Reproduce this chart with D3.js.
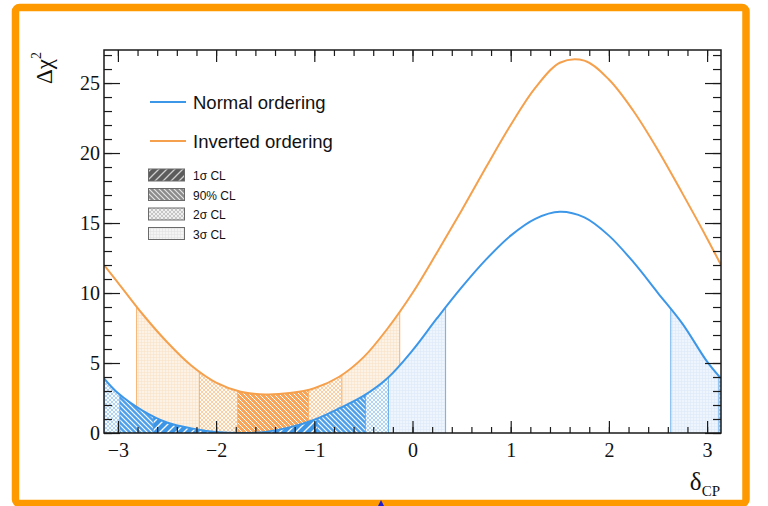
<!DOCTYPE html>
<html><head><meta charset="utf-8">
<script src="https://cdn.jsdelivr.net/npm/d3@7"></script>
<style>body{margin:0;background:#fff}svg{display:block}</style>
</head><body>
<svg id="c" width="768" height="506"></svg>
<script>
// ---- data ----
const deltaNO = [-3.1416,-3.0,-2.75,-2.5,-2.25,-2.0,-1.75,-1.5,-1.25,-1.0,-0.75,-0.5,-0.25,0,0.25,0.5,0.75,1.0,1.25,1.5,1.75,2.0,2.25,2.5,2.75,3.0,3.1416];
const chi2NO  = [3.9,2.85,1.6,0.75,0.33,0.08,0.0,0.08,0.4,0.95,1.75,2.65,3.95,5.9,8.2,10.4,12.4,14.1,15.3,15.8,15.4,14.1,12.2,10.0,7.8,5.1,3.9];
const deltaIO = [-3.1416,-3.0,-2.75,-2.5,-2.25,-2.0,-1.75,-1.5,-1.25,-1.0,-0.75,-0.5,-0.25,0,0.25,0.5,0.75,1.0,1.25,1.5,1.75,2.0,2.25,2.5,2.75,3.0,3.1416];
const chi2IO  = [12.0,10.75,8.5,6.5,4.8,3.6,2.95,2.75,2.85,3.2,4.0,5.4,7.5,10.0,12.9,15.9,19.0,22.0,24.65,26.45,26.6,25.25,23.0,20.2,17.1,13.9,12.0];

// CL bands: start, end, level
const bandStartNO = [-3.1416,-2.98,-2.64,-0.97,-0.48,-0.245,2.63,3.12];
const bandEndNO   = [-2.98,-2.64,-0.97,-0.48,-0.245,0.337,3.12,3.1416];
const bandLevelNO = ["2s","90","1s","90","2s","3s","3s","2s"];
const bandStartIO = [-2.81,-2.17,-1.78,-1.06,-0.72];
const bandEndIO   = [-2.17,-1.78,-1.06,-0.72,-0.13];
const bandLevelIO = ["3s","2s","90","2s","3s"];

const xTicks = [-3,-2,-1,0,1,2,3];
const yTicks = [0,5,10,15,20,25];
const seriesNames = ["Normal ordering","Inverted ordering"];
const clLabels = ["1σ CL","90% CL","2σ CL","3σ CL"];
const clKeys = ["1s","90","2s","3s"];

// ---- drawing ----
const svg = d3.select("#c");
const defs = svg.append("defs");
const blue = "#3d97e8", orange = "#f5a04c";

function addPattern(id, kind, base, line, lw) {
  const p = defs.append("pattern").attr("id", id).attr("patternUnits","userSpaceOnUse");
  let s, d;
  if (kind === "1s") { s = 8; d = "M-1,9 L9,-1 M-1,1 L1,-1 M7,9 L9,7"; }
  else if (kind === "90") { s = 5; d = "M-1,-1 L6,6 M4,-1 L6,1 M-1,4 L1,6"; }
  else if (kind === "2s") { s = 4; d = "M0,0 L4,4 M4,0 L0,4"; }
  else { s = 3; d = "M0,0.5 H3 M0.5,0 V3"; }
  p.attr("width", s).attr("height", s);
  p.append("rect").attr("width", s).attr("height", s).attr("fill", base);
  p.append("path").attr("d", d).attr("stroke", line).attr("stroke-width", lw).attr("fill","none");
}
addPattern("NO-1s","1s","#3d95e6","#ffffff",1.3);
addPattern("NO-90","90","#4d9fe9","#ffffff",1.1);
addPattern("NO-2s","2s","#b2d3f3","#ffffff",0.9);
addPattern("NO-3s","3s","#eef5fc","#dbe9f8",0.6);
addPattern("IO-1s","1s","#f39a45","#ffffff",1.3);
addPattern("IO-90","90","#f6a55a","#ffffff",1.0);
addPattern("IO-2s","2s","#f9cfa6","#ffffff",0.9);
addPattern("IO-3s","3s","#fdf2e6","#f9e2c9",0.6);
addPattern("L-1s","1s","#5c5c5c","#cfcfcf",1.3);
addPattern("L-90","90","#8c8c8c","#e6e6e6",1.1);
addPattern("L-2s","2s","#c6c6c6","#f4f4f4",0.9);
addPattern("L-3s","3s","#f4f4f4","#e0e0e0",0.6);

const x = d3.scaleLinear().domain([-Math.PI, Math.PI]).range([104, 721]);
const y = d3.scaleLinear().domain([0, 27.36]).range([433, 50]);

defs.append("clipPath").attr("id","plotclip").append("rect")
  .attr("x",104).attr("y",50).attr("width",617).attr("height",383);

const curve = d3.curveCatmullRom.alpha(0.5);
const line = d3.line().x(d=>x(d[0])).y(d=>y(d[1])).curve(curve);
const area = d3.area().x(d=>x(d[0])).y0(y(0)).y1(d=>y(d[1])).curve(curve);

const ptsNO = deltaNO.map((d,i)=>[d, chi2NO[i]]);
const ptsIO = deltaIO.map((d,i)=>[d, chi2IO[i]]);

const plot = svg.append("g").attr("clip-path","url(#plotclip)");

function drawBands(tag, pts, starts, ends, levels, col) {
  defs.append("clipPath").attr("id","under-"+tag).append("path").attr("d", area(pts));
  const g = plot.append("g").attr("clip-path","url(#under-"+tag+")");
  starts.forEach((s,i)=>{
    g.append("rect").attr("x", x(s)).attr("y", 50)
      .attr("width", x(ends[i]) - x(s)).attr("height", 383)
      .attr("fill", "url(#"+tag+"-"+levels[i]+")");
  });
  const edges = Array.from(new Set(starts.concat(ends)));
  edges.forEach(e=>{
    g.append("line").attr("x1", x(e)).attr("x2", x(e)).attr("y1", 50).attr("y2", 433)
      .attr("stroke", col).attr("stroke-width", 1).attr("opacity", 0.75);
  });
}
drawBands("IO", ptsIO, bandStartIO, bandEndIO, bandLevelIO, orange);
drawBands("NO", ptsNO, bandStartNO, bandEndNO, bandLevelNO, blue);

plot.append("path").attr("d", line(ptsIO)).attr("fill","none").attr("stroke",orange).attr("stroke-width",2);
plot.append("path").attr("d", line(ptsNO)).attr("fill","none").attr("stroke",blue).attr("stroke-width",2);

// axes
const serif = "'Liberation Serif','Times New Roman',serif";
const fmt = d3.format("d");
const xMinor = d3.range(-3, 3.05, 0.2);
const yMinor = d3.range(0, 28, 1);
function styleAxis(g){
  g.select(".domain").remove();
  g.attr("font-family", serif).attr("font-size", 20);
  g.selectAll("line").attr("stroke","#1a1a1a").attr("stroke-width",1.2);
  g.selectAll("text").attr("fill","#111");
}

svg.append("g").attr("transform","translate(0,433)")
  .call(d3.axisBottom(x).tickValues(xMinor).tickSize(-6).tickSizeOuter(0).tickFormat("")).call(styleAxis);
svg.append("g").attr("transform","translate(0,433)")
  .call(d3.axisBottom(x).tickValues(xTicks).tickSize(-12).tickSizeOuter(0).tickPadding(10).tickFormat(fmt)).call(styleAxis);
svg.append("g").attr("transform","translate(0,50)")
  .call(d3.axisTop(x).tickValues(xMinor).tickSize(-6).tickSizeOuter(0).tickFormat("")).call(styleAxis);
svg.append("g").attr("transform","translate(0,50)")
  .call(d3.axisTop(x).tickValues(xTicks).tickSize(-12).tickSizeOuter(0).tickFormat("")).call(styleAxis);

svg.append("g").attr("transform","translate(104,0)")
  .call(d3.axisLeft(y).tickValues(yMinor).tickSize(-8).tickSizeOuter(0).tickFormat("")).call(styleAxis);
svg.append("g").attr("transform","translate(104,0)")
  .call(d3.axisLeft(y).tickValues(yTicks).tickSize(-16).tickSizeOuter(0).tickPadding(4).tickFormat(fmt)).call(styleAxis);
svg.append("g").attr("transform","translate(721,0)")
  .call(d3.axisRight(y).tickValues(yMinor).tickSize(-8).tickSizeOuter(0).tickFormat("")).call(styleAxis);
svg.append("g").attr("transform","translate(721,0)")
  .call(d3.axisRight(y).tickValues(yTicks).tickSize(-16).tickSizeOuter(0).tickFormat("")).call(styleAxis);

svg.append("rect").attr("x",104).attr("y",50).attr("width",617).attr("height",383)
  .attr("fill","none").attr("stroke","#1a1a1a").attr("stroke-width",1.5);

// axis titles
const yt = svg.append("text").attr("transform","translate(52,84) rotate(-90)")
  .attr("font-family",serif).attr("font-size",23).attr("fill","#111");
yt.append("tspan").text("Δχ");
yt.append("tspan").attr("font-size",14).attr("dy",-11).text("2");

const xt = svg.append("text").attr("x",720).attr("y",490).attr("text-anchor","end")
  .attr("font-family",serif).attr("font-size",25).attr("fill","#111");
xt.append("tspan").text("δ");
xt.append("tspan").attr("font-size",15).attr("dy",6).text("CP");

// legend
const sans = "'Liberation Sans',Arial,Helvetica,sans-serif";
const lgY = [102, 141];
[blue, orange].forEach((c,i)=>{
  svg.append("line").attr("x1",150).attr("x2",186).attr("y1",lgY[i]).attr("y2",lgY[i])
    .attr("stroke",c).attr("stroke-width",2);
  svg.append("text").attr("x",193).attr("y",lgY[i]+6.5).attr("font-family",sans).attr("font-size",18.5)
    .attr("fill","#111").text(seriesNames[i]);
});
clLabels.forEach((t,i)=>{
  const top = 169 + i*19.5;
  svg.append("rect").attr("x",148.5).attr("y",top).attr("width",36).attr("height",12)
    .attr("fill","url(#L-"+clKeys[i]+")").attr("stroke","#6a6a6a").attr("stroke-width",1);
  svg.append("text").attr("x",193).attr("y",top+11).attr("font-family",sans).attr("font-size",12)
    .attr("fill","#111").text(t);
});

// outer frame
svg.append("rect").attr("x",15.5).attr("y",7.5).attr("width",730.5).attr("height",496)
  .attr("rx",4).attr("fill","none").attr("stroke","#fe9a00").attr("stroke-width",7.5);
svg.append("path").attr("d","M381,500 L384,506 L378,506 Z").attr("fill","#1f1fd0");
</script>
</body></html>
